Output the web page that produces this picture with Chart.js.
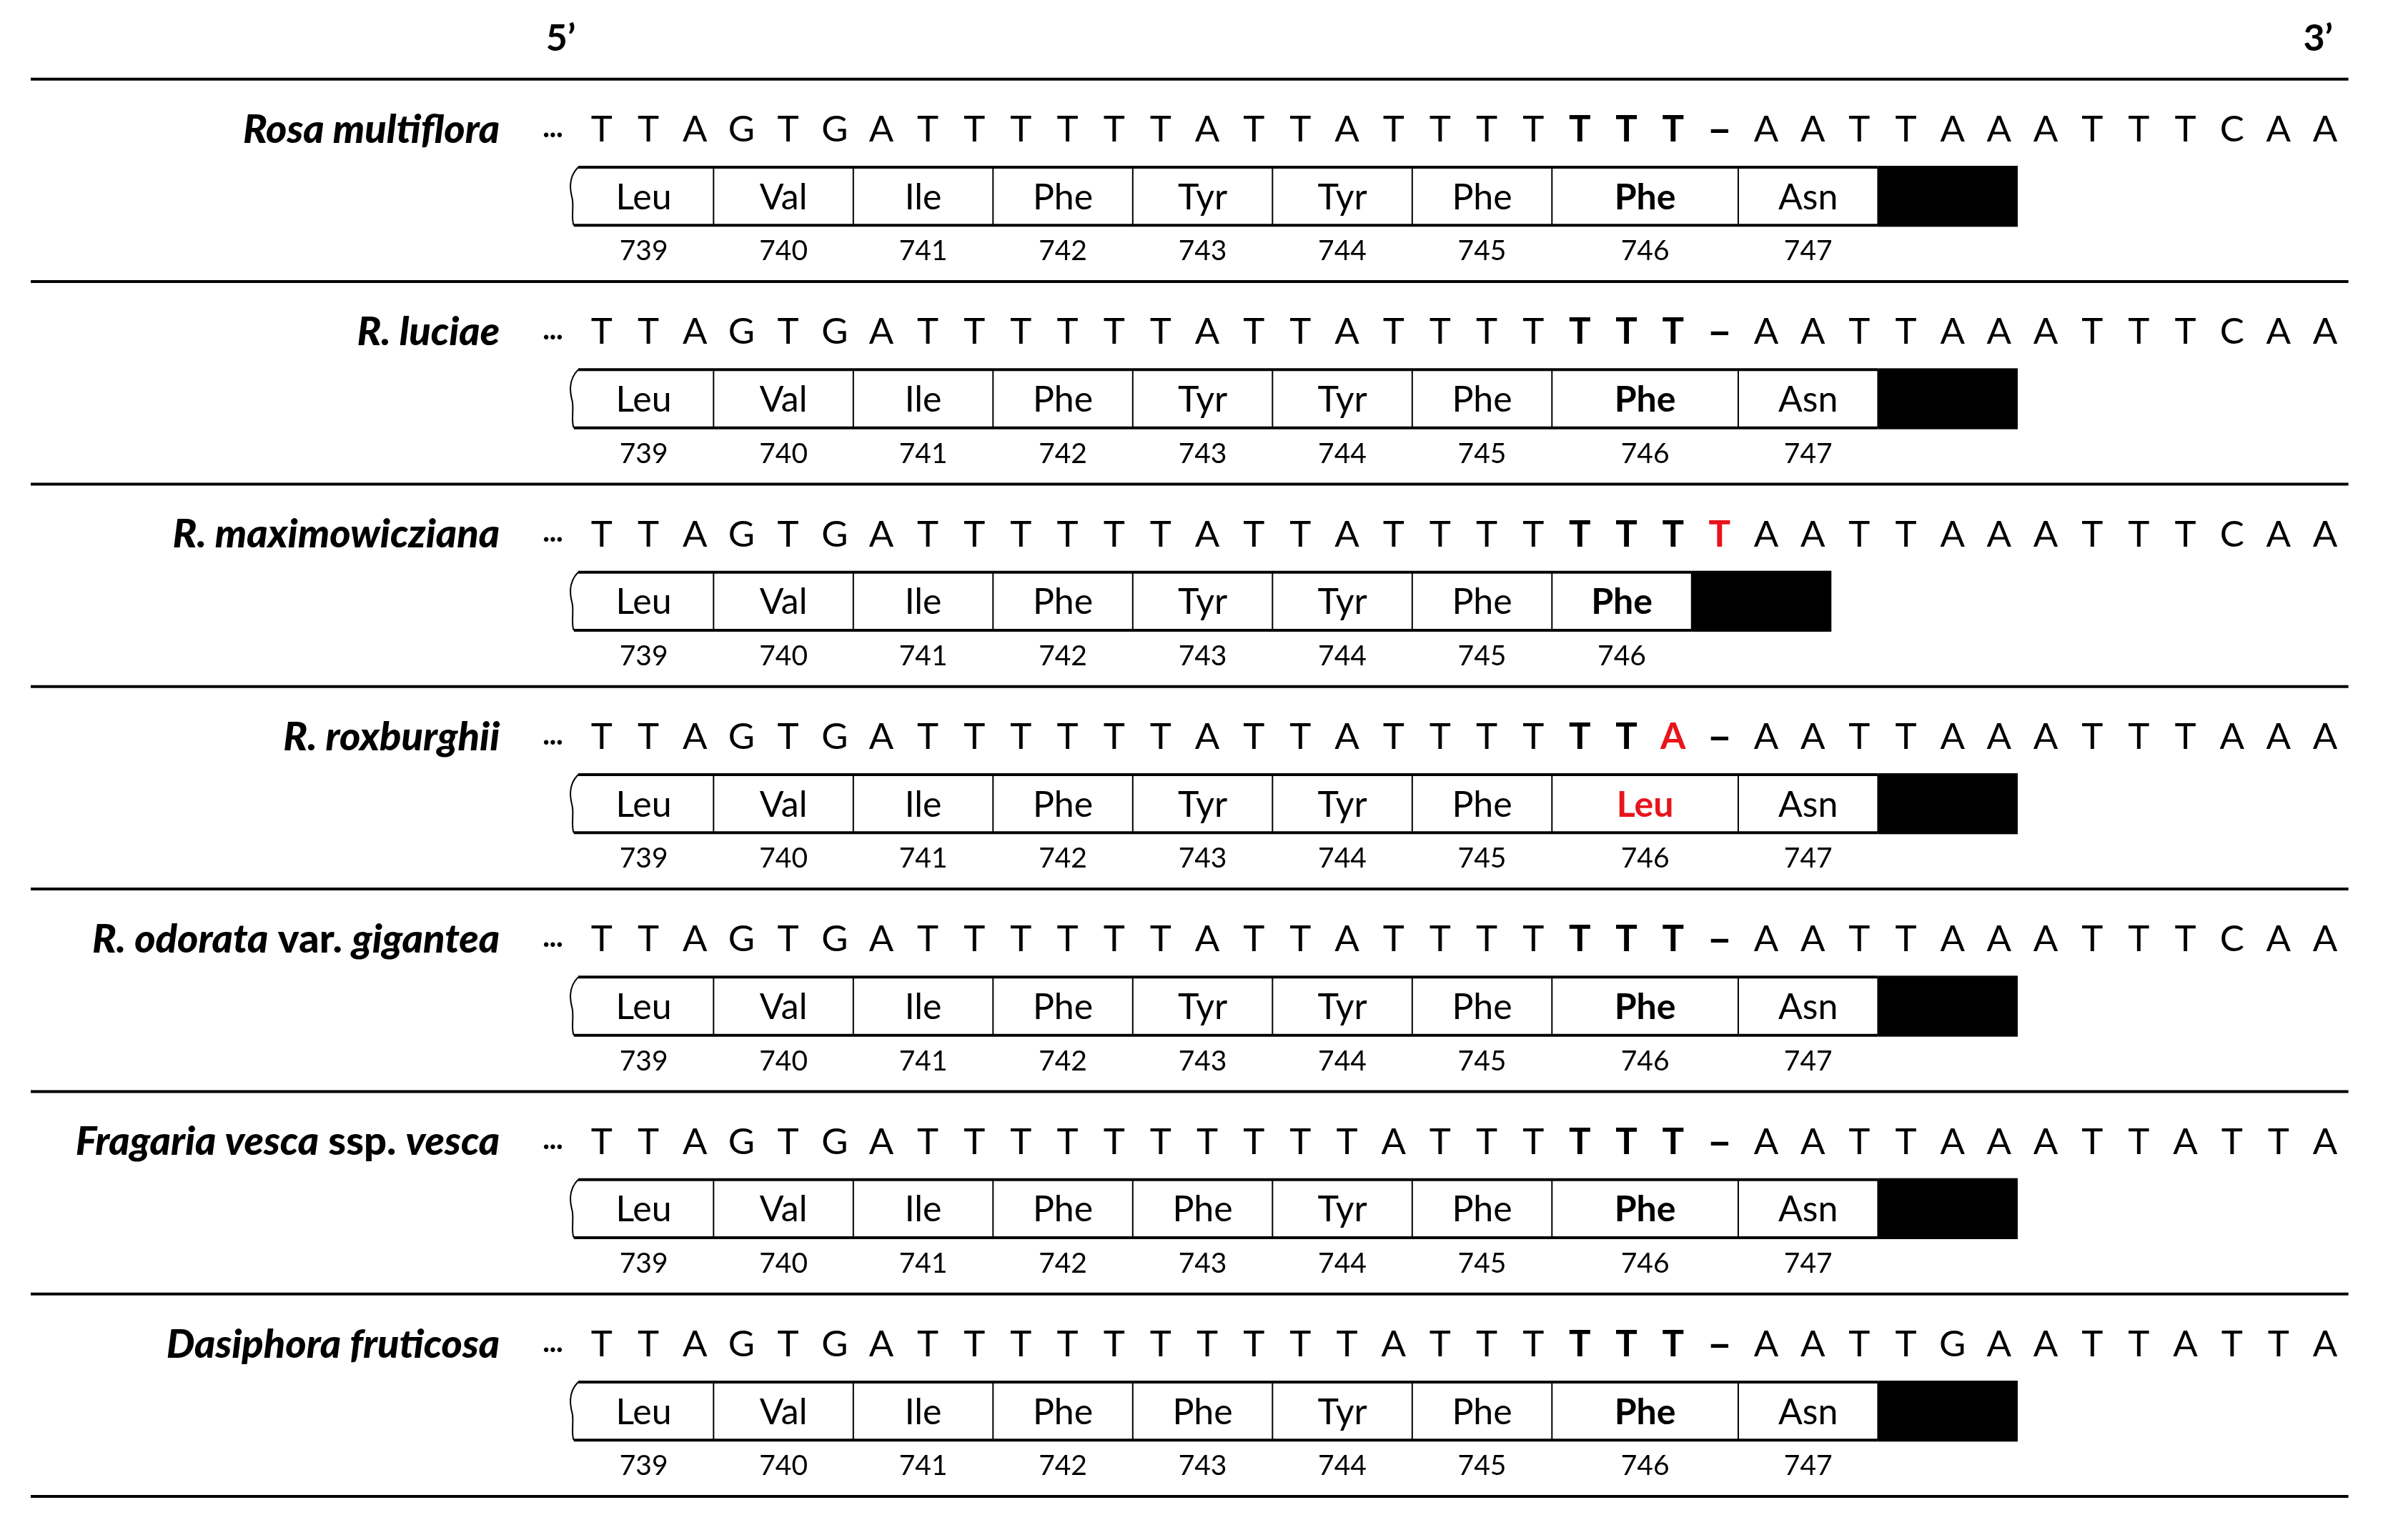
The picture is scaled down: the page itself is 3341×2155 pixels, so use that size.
<!DOCTYPE html>
<html>
<head>
<meta charset="utf-8">
<script src="https://cdn.jsdelivr.net/npm/chart.js@4"></script>
<style>
  html, body { margin: 0; padding: 0; background: #fff; }
</style>
</head>
<body>
<canvas id="seqChart" width="3341" height="2155"></canvas>
<script>
// Species labels, split into [text, italic] pieces
const speciesLabels = [
  [['Rosa multiflora', true]],
  [['R. luciae', true]],
  [['R. maximowicziana', true]],
  [['R. roxburghii', true]],
  [['R. odorata', true], [' var. ', false], ['gigantea', true]],
  [['Fragaria vesca', true], [' ssp. ', false], ['vesca', true]],
  [['Dasiphora fruticosa', true]]
];

// Nucleotide sequences, one char per column ('-' = gap)
const sequences = [
  'TTAGTGATTTTTTATTATTTTTTT-AATTAAATTTCAA',
  'TTAGTGATTTTTTATTATTTTTTT-AATTAAATTTCAA',
  'TTAGTGATTTTTTATTATTTTTTTTAATTAAATTTCAA',
  'TTAGTGATTTTTTATTATTTTTTA-AATTAAATTTAAA',
  'TTAGTGATTTTTTATTATTTTTTT-AATTAAATTTCAA',
  'TTAGTGATTTTTTTTTTATTTTTT-AATTAAATTATTA',
  'TTAGTGATTTTTTTTTTATTTTTT-AATTGAATTATTA'
];

// Amino acids per row and codon widths (in columns)
const aminoAcids = [
  ['Leu', 'Val', 'Ile', 'Phe', 'Tyr', 'Tyr', 'Phe', 'Phe', 'Asn'],
  ['Leu', 'Val', 'Ile', 'Phe', 'Tyr', 'Tyr', 'Phe', 'Phe', 'Asn'],
  ['Leu', 'Val', 'Ile', 'Phe', 'Tyr', 'Tyr', 'Phe', 'Phe'],
  ['Leu', 'Val', 'Ile', 'Phe', 'Tyr', 'Tyr', 'Phe', 'Leu', 'Asn'],
  ['Leu', 'Val', 'Ile', 'Phe', 'Tyr', 'Tyr', 'Phe', 'Phe', 'Asn'],
  ['Leu', 'Val', 'Ile', 'Phe', 'Phe', 'Tyr', 'Phe', 'Phe', 'Asn'],
  ['Leu', 'Val', 'Ile', 'Phe', 'Phe', 'Tyr', 'Phe', 'Phe', 'Asn']
];
const codonWidths = [
  [3, 3, 3, 3, 3, 3, 3, 4, 3],
  [3, 3, 3, 3, 3, 3, 3, 4, 3],
  [3, 3, 3, 3, 3, 3, 3, 3],
  [3, 3, 3, 3, 3, 3, 3, 4, 3],
  [3, 3, 3, 3, 3, 3, 3, 4, 3],
  [3, 3, 3, 3, 3, 3, 3, 4, 3],
  [3, 3, 3, 3, 3, 3, 3, 4, 3]
];
const residueNumbers = [739, 740, 741, 742, 743, 744, 745, 746, 747];
const stopWidth = 3;

// Highlighting: bold columns, red columns, bold/red amino acid index
const boldColumns = [21, 22, 23];
const redColumns = [[], [], [24], [23], [], [], []];
const boldAminoAcid = 7;
const redAminoAcid = [null, null, null, 7, null, null, null];

const FONT = 'Lato, "Open Sans", sans-serif';
const RED = '#e8141b';

// row offsets (in row units) below each separator line
const SEQ_Y = 0.25, BOX_TOP = 0.435, BOX_BOTTOM = 0.722, NUM_Y = 0.85;
const BOX_START = -0.6;

const drawFigure = {
  id: 'drawFigure',
  afterDatasetsDraw(chart) {
    const ctx = chart.ctx;
    const xs = chart.scales.x, ys = chart.scales.y;
    const X = v => xs.getPixelForValue(v);
    const Y = v => ys.getPixelForValue(v);

    ctx.save();
    ctx.fillStyle = '#000';
    ctx.strokeStyle = '#000';
    ctx.textBaseline = 'middle';

    // 5' / 3'
    ctx.font = `bold 52px ${FONT}`;
    ctx.textAlign = 'center';
    ctx.fillText('5\u2019', X(-0.88), Y(-0.2));
    ctx.fillText('3\u2019', X(36.85), Y(-0.2));

    // separator lines
    ctx.lineWidth = 4;
    for (let r = 0; r <= sequences.length; r++) {
      ctx.beginPath();
      ctx.moveTo(X(-12.26), Y(r));
      ctx.lineTo(X(37.5), Y(r));
      ctx.stroke();
    }

    sequences.forEach((seq, r) => {
      // species label, right aligned
      const parts = speciesLabels[r];
      const fontOf = it => `${it ? 'italic ' : ''}900 56px ${FONT}`;
      let total = 0;
      parts.forEach(([t, it]) => { ctx.font = fontOf(it); total += ctx.measureText(t).width; });
      let lx = X(-2.19) - total;
      ctx.textAlign = 'left';
      parts.forEach(([t, it]) => {
        ctx.font = fontOf(it);
        ctx.fillText(t, lx, Y(r + SEQ_Y));
        lx += ctx.measureText(t).width;
      });

      // leading dots
      ctx.textAlign = 'center';
      ctx.font = `bold 34px ${FONT}`;
      ctx.fillText('\u00b7\u00b7\u00b7', X(-1.05), Y(r + SEQ_Y) + 6);

      // nucleotides
      for (let i = 0; i < seq.length; i++) {
        const gap = seq[i] === '-';
        const bold = gap || boldColumns.includes(i) || redColumns[r].includes(i);
        ctx.fillStyle = redColumns[r].includes(i) ? RED : '#000';
        ctx.font = `${bold ? 'bold ' : ''}${gap ? 60 : 51}px ${FONT}`;
        ctx.fillText(gap ? '\u2013' : seq[i], X(i), Y(r + SEQ_Y));
      }
      ctx.fillStyle = '#000';

      // codon boxes
      const top = Y(r + BOX_TOP), bottom = Y(r + BOX_BOTTOM);
      let pos = BOX_START;
      const aas = aminoAcids[r];
      const edges = [pos];
      aas.forEach((aa, k) => { pos += codonWidths[r][k]; edges.push(pos); });
      const left = X(edges[0]), right = X(edges[edges.length - 1]);

      // stop codon block
      ctx.fillRect(right, top - 2, X(pos + stopWidth) - right, bottom - top + 4);

      // top and bottom borders
      ctx.lineWidth = 4;
      ctx.beginPath();
      ctx.moveTo(left + 6, top); ctx.lineTo(right, top);
      ctx.moveTo(left, bottom); ctx.lineTo(right, bottom);
      ctx.stroke();
      // wavy left edge
      ctx.lineWidth = 2;
      const h = bottom - top;
      ctx.beginPath();
      ctx.moveTo(left + 6, top);
      ctx.bezierCurveTo(left - 10, top + h * 0.2, left - 4, top + h * 0.45, left - 2, top + h * 0.55);
      ctx.bezierCurveTo(left, top + h * 0.7, left - 4, top + h * 0.9, left, bottom);
      ctx.stroke();
      // dividers
      for (let k = 1; k < edges.length; k++) {
        ctx.beginPath();
        ctx.moveTo(X(edges[k]), top);
        ctx.lineTo(X(edges[k]), bottom);
        ctx.stroke();
      }

      // amino acid labels and numbers
      aas.forEach((aa, k) => {
        const cx = (X(edges[k]) + X(edges[k + 1])) / 2;
        const bold = k === boldAminoAcid;
        ctx.fillStyle = redAminoAcid[r] === k ? RED : '#000';
        ctx.font = `${bold ? 'bold ' : ''}50px ${FONT}`;
        ctx.fillText(aa, cx, (top + bottom) / 2 + 2);
        ctx.fillStyle = '#000';
        ctx.font = `39px ${FONT}`;
        ctx.fillText(String(residueNumbers[k]), cx, Y(r + NUM_Y));
      });
    });
    ctx.restore();
  }
};

new Chart(document.getElementById('seqChart'), {
  type: 'scatter',
  data: { datasets: [{ data: [], pointRadius: 0 }] },
  options: {
    responsive: false,
    devicePixelRatio: 1,
    animation: false,
    layout: { padding: 0 },
    plugins: { legend: { display: false }, tooltip: { enabled: false } },
    scales: {
      x: { type: 'linear', min: -12.92, max: 38.35, display: false },
      y: { type: 'linear', min: -0.391, max: 7.215, reverse: true, display: false }
    }
  },
  plugins: [drawFigure]
});
</script>
</body>
</html>
